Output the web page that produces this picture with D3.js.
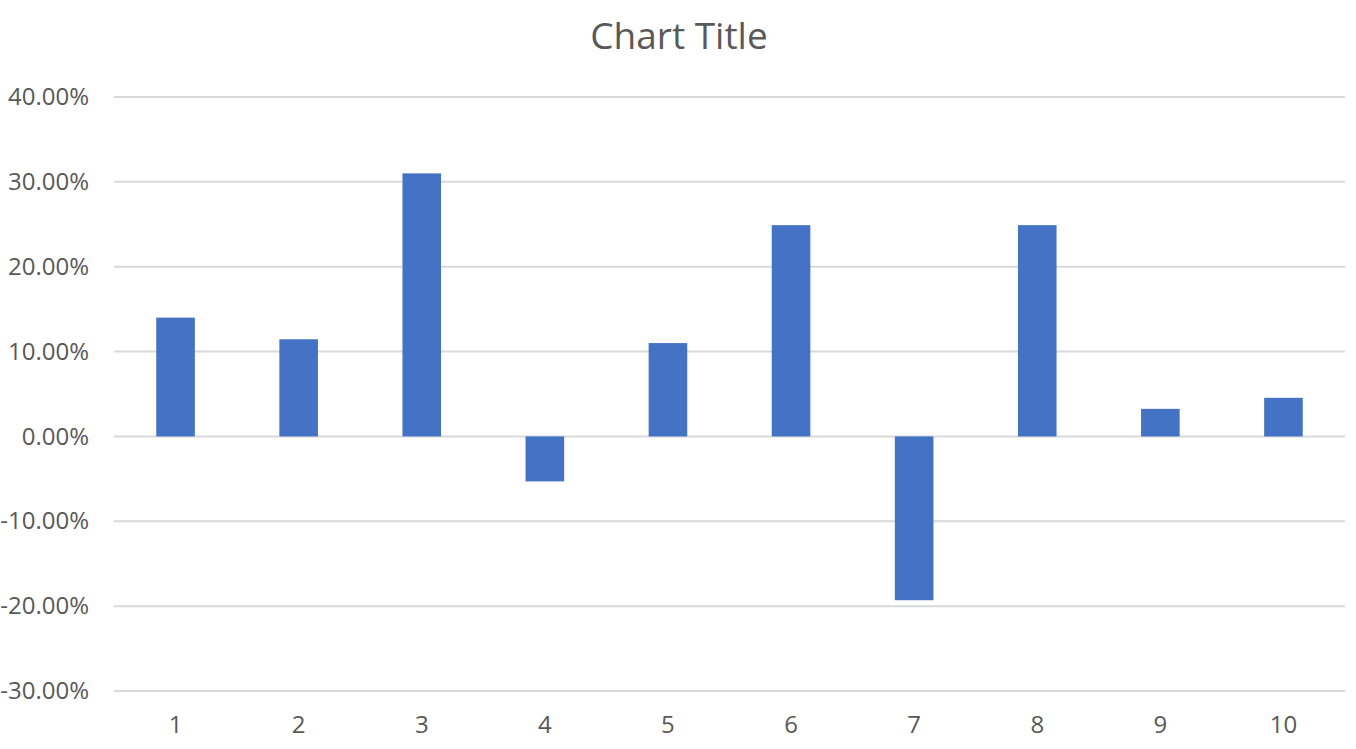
<html><head>
<title>Chart Title</title>
<script src="https://d3js.org/d3.v7.min.js"></script>
<style>
  body { margin: 0; background: #fff; }
  svg text { font-family: "Open Sans", "Noto Sans", sans-serif; fill: #595959; }
  .axis .domain { display: none; }
  .axis line { display: none; }
</style>
</head>
<body>
<svg id="chart" width="1356" height="749"></svg>
<script>
// data
const categories = ["1", "2", "3", "4", "5", "6", "7", "8", "9", "10"];
const values = [0.140, 0.1145, 0.310, -0.053, 0.110, 0.249, -0.193, 0.249, 0.0325, 0.0455];
const yTicks = [-0.3, -0.2, -0.1, 0, 0.1, 0.2, 0.3, 0.4];

let svg = d3.select("svg#chart");
let plot = { left: 114, right: 1345, top: 97, bottom: 691 };

let x = d3.scaleBand().domain(categories)
  .range([plot.left, plot.right])
  .paddingInner(0.6865).paddingOuter(0.6865 / 2);

let y = d3.scaleLinear().domain([-0.3, 0.4]).range([plot.bottom, plot.top]);

// title
svg.append("text")
  .attr("x", 679).attr("y", 49)
  .attr("text-anchor", "middle")
  .style("font-size", "37px")
  .text("Chart Title");

// gridlines
svg.append("g").selectAll("line")
  .data(yTicks)
  .join("line")
  .attr("x1", plot.left).attr("x2", plot.right)
  .attr("y1", d => y(d)).attr("y2", d => y(d))
  .attr("stroke", "#d9d9d9")
  .attr("stroke-width", 2);

// y axis labels
let yAxis = d3.axisLeft(y).tickValues(yTicks)
  .tickFormat(d => (d * 100).toFixed(2) + "%")
  .tickSize(0).tickPadding(0);
svg.append("g")
  .attr("class", "y axis")
  .attr("transform", "translate(89,0)")
  .call(yAxis)
  .selectAll("text")
  .style("font-size", "24px");

// bars
svg.append("g").selectAll("rect")
  .data(values)
  .join("rect")
  .attr("x", (d, i) => x(categories[i]))
  .attr("width", x.bandwidth())
  .attr("y", d => y(Math.max(0, d)))
  .attr("height", d => Math.abs(y(d) - y(0)))
  .attr("fill", "#4472c4");

// x axis labels
let xAxis = d3.axisBottom(x).tickSize(0).tickPadding(0);
svg.append("g")
  .attr("class", "x axis")
  .attr("transform", "translate(0,716)")
  .call(xAxis)
  .selectAll("text")
  .style("font-size", "24px");
</script>
</body>
</html>
